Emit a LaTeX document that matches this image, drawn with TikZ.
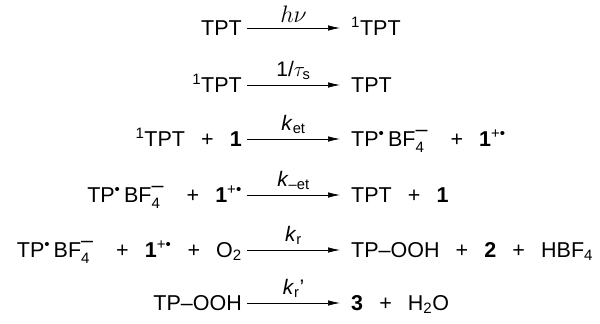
\documentclass[tikz,border=0pt]{standalone}
\usepackage{amsmath}
\usepackage{fontspec}
\setmainfont{Liberation Sans}
\usetikzlibrary{arrows.meta}

\newcommand{\rad}{\textsuperscript{•}}
\newcommand{\tpbf}{TP\rad\,BF$_{\text{4}}^{\raisebox{2pt}{–}}$\hspace{0.3em}}
\newcommand{\pl}{\hspace{0.75em}+\hspace{0.75em}}
\newcommand{\cpd}[1]{\textbf{#1}}
\newcommand{\onerad}{\textbf{1}$^{\text{+•}}$}
\newcommand{\singlet}{$^{\text{1}}$TPT}

\begin{document}
\begin{tikzpicture}[x=1pt,y=-1pt,
   every node/.style={font=\fontsize{21.5}{26}\selectfont},
   side/.style={inner ysep=0pt,text height=15pt,text depth=0pt},
   lhs/.style={side,anchor=east,inner xsep=5pt},
   rhs/.style={side,anchor=west,inner xsep=11pt},
   rxn/.style={-{Latex[length=12pt,width=5.5pt]},line width=0.7pt},
   rate/.style={midway,above=5pt,inner sep=0pt,font=\fontsize{21}{25}\selectfont}
]
\useasboundingbox (0,0) rectangle (600,324);

% Excitation and decay
\node[lhs] (r1) at (247,28) {TPT};
\node[rhs] (p1) at (340,28) {\singlet};
\draw[rxn] (r1) -- (p1) node[rate] {\scalebox{1.15}{$h\nu$}};

\node[lhs] (r2) at (247,85) {\singlet};
\node[rhs] (p2) at (340,85) {TPT};
\draw[rxn] (r2) -- (p2) node[rate] {1/$\tau_{\text{s}}$};

% Electron transfer and back transfer
\node[lhs] (r3) at (247,139) {\singlet\pl\cpd{1}};
\node[rhs] (p3) at (340,139) {\tpbf\pl\onerad};
\draw[rxn] (r3) -- (p3) node[rate] {\textit{k}$_{\text{et}}$};

\node[lhs] (r4) at (247,195) {\tpbf\pl\onerad};
\node[rhs] (p4) at (340,195) {TPT\pl\cpd{1}};
\draw[rxn] (r4) -- (p4) node[rate] {\textit{k}$_{\text{–et}}$};

% Reaction with oxygen
\node[lhs] (r5) at (247,250) {\tpbf\pl\onerad\pl O$_{\text{2}}$};
\node[rhs] (p5) at (340,250) {TP–OOH\pl\cpd{2}\pl HBF$_{\text{4}}$};
\draw[rxn] (r5) -- (p5) node[rate] {\textit{k}$_{\text{r}}$};

\node[lhs] (r6) at (247,303) {TP–OOH};
\node[rhs] (p6) at (340,303) {\cpd{3}\pl H$_{\text{2}}$O};
\draw[rxn] (r6) -- (p6) node[rate] {\textit{k}$_{\text{r}}$'};

\end{tikzpicture}
\end{document}
